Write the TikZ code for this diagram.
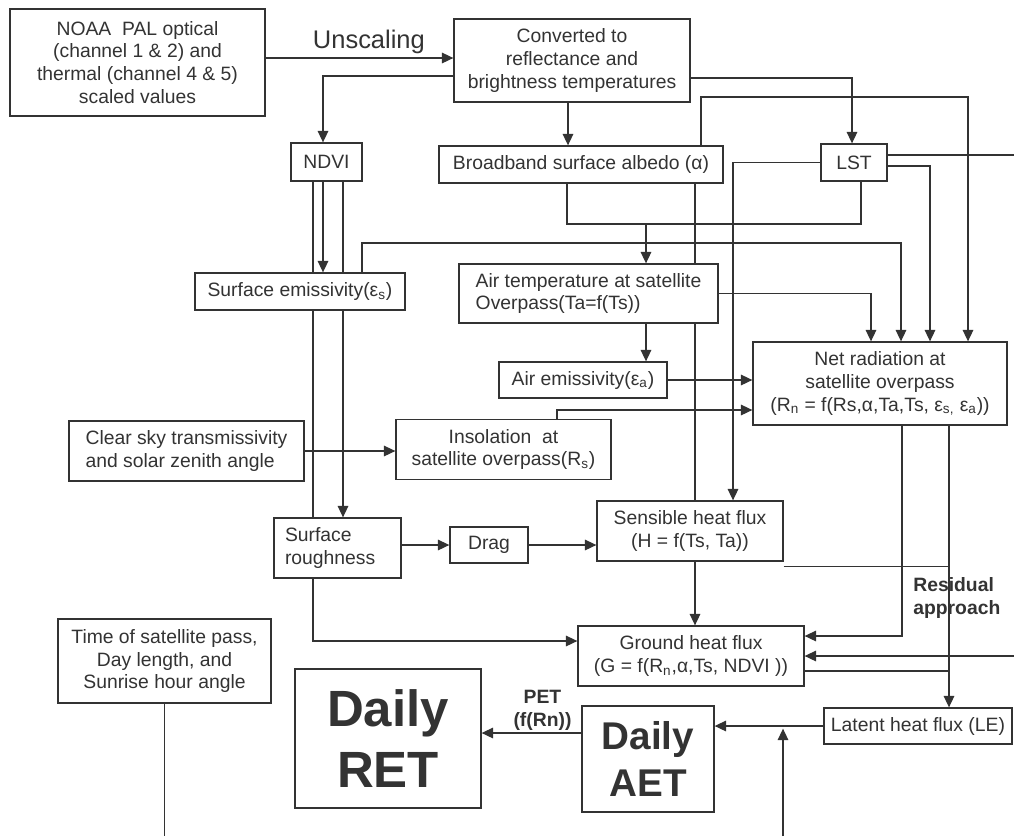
\documentclass[tikz,border=0pt]{standalone}
\usepackage{fontspec}
\setmainfont{Liberation Sans}
\usepackage{tikz}
\usetikzlibrary{arrows.meta,backgrounds}
\definecolor{ink}{HTML}{333333}

\begin{document}
\begin{tikzpicture}[
      x=0.02cm, y=-0.02cm,
      box/.style={draw=ink, line width=0.75pt, fill=white, text=ink, inner sep=0pt, align=center, font=\fontsize{11}{13}\selectfont},
      sz/.style 2 args={minimum width=#1cm, minimum height=#2cm},
      bigbox/.style={box, font=\fontsize{29}{35}\selectfont\bfseries},
      midbox/.style={box, font=\fontsize{22}{27}\selectfont\bfseries},
      link/.style={draw=ink, line width=0.75pt},
      arr/.style={link, -{Triangle[length=6.5pt, width=6pt]}},
      note/.style={text=ink, inner sep=1pt, align=center, font=\fontsize{11}{13}\selectfont\bfseries},
    ]
    \useasboundingbox (0,0) rectangle (1014,836);

    % Inputs and satellite products
    \node[box, sz={5.10}{2.14}] (noaa) at (137.5,62.5) {NOAA\ \ PAL optical\\(channel 1 \& 2) and\\thermal (channel 4 \& 5)\\scaled values};
    \node[box, sz={4.72}{1.66}] (conv) at (572,60.5) {Converted to\\reflectance and\\brightness temperatures};
    \node[box, sz={1.42}{0.76}] (ndvi) at (326.5,162) {NDVI};
    \node[box, sz={5.68}{0.74}] (albedo) at (581,164.5) {Broadband surface albedo (α)};
    \node[box, sz={1.32}{0.74}] (lst) at (854,162.5) {LST};
    \node[box, sz={4.20}{0.74}] (semis) at (300,291.5) {Surface emissivity(ε\textsubscript{s})};
    \node[box, align=left, sz={5.18}{1.18}] (airt) at (588.5,293.5) {Air temperature at satellite\\Overpass(Ta=f(Ts))};
    \node[box, sz={3.36}{0.72}] (aemis) at (583,380) {Air emissivity(ε\textsubscript{a})};
    \node[box, sz={5.08}{1.66}] (net) at (880,383.5) {Net radiation at\\satellite overpass\\(R\textsubscript{n} = f(Rs,α,Ta,Ts, ε\textsubscript{s,} ε\textsubscript{a}))};
    \node[box, align=left, sz={4.70}{1.20}] (clear) at (186.5,451) {Clear sky transmissivity\\and solar zenith angle};
    \node[box, sz={4.30}{1.20}] (insol) at (503.5,449.5) {Insolation\ \ at\\satellite overpass(R\textsubscript{s})};

    % Fluxes
    \node[box, align=left, text width=2.1cm, sz={2.54}{1.20}] (rough) at (337.5,548) {Surface\\roughness};
    \node[box, sz={1.56}{0.72}] (drag) at (489,545) {Drag};
    \node[box, sz={3.72}{1.20}] (sens) at (690,531) {Sensible heat flux\\(H = f(Ts, Ta))};
    \node[box, sz={4.52}{1.20}] (ground) at (691,656) {Ground heat flux\\(G = f(R\textsubscript{n},α,Ts, NDVI ))};
    \node[box, sz={3.76}{0.72}] (latent) at (918,726) {Latent heat flux (LE)};
    \node[note, align=left, anchor=north west, inner sep=0pt] (resid) at (913,577) {Residual\\approach};

    % Daily totals
    \node[box, sz={4.26}{1.68}] (time) at (164.5,661) {Time of satellite pass,\\Day length, and\\Sunrise hour angle};
    \node[bigbox, sz={3.72}{2.78}] (ret) at (388,738.5) {Daily\\RET};
    \node[midbox, sz={2.64}{2.12}] (aet) at (648,759) {Daily\\AET};

    \begin{scope}[on background layer]
      % unscaling and first products
      \draw[arr] (noaa.east |- 0,58) -- node[pos=0.55, above, inner sep=2pt, text=ink, font=\fontsize{14.5}{17}\selectfont] (unsc) {Unscaling} (conv.west |- 0,58);
      \draw[arr] (conv.west |- 0,76) -| (ndvi.north -| 323,0);
      \draw[arr] (conv.south -| 568,0) -- (albedo.north -| 568,0);
      \draw[arr] (conv.east |- 0,78) -| (lst.north -| 852,0);

      % NDVI branches
      \draw[arr] (ndvi.south -| 323,0) -- (semis.north -| 323,0);
      \draw[arr] (ndvi.south -| 343,0) -- (rough.north -| 343,0);
      \draw[arr] (ndvi.south -| 313,0) -- (313,641) -- (ground.west |- 0,641);

      % albedo and LST
      \draw[arr] (albedo.north -| 701,0) -- (701,97) -| (net.north -| 968,0);
      \draw[arr] (albedo.south -| 695,0) -- (ground.north -| 695,0);
      \draw[link] (albedo.south -| 567,0) -- (567,224) -| (lst.south -| 861,0);
      \coordinate (tjoin) at (646,224);
      \draw[arr] (tjoin) -- (airt.north -| tjoin);
      \draw[arr] (lst.west) -| (sens.north -| 733,0);
      \draw[arr] (lst.east |- 0,166) -| (net.north -| 930,0);
      \coordinate (rimtop) at (1014,155);
      \draw[link] (lst.east |- rimtop) -- (rimtop);

      % net radiation inputs
      \draw[arr] (semis.north -| 362,0) -- (362,243) -| (net.north -| 901,0);
      \draw[arr] (airt.east) -| (net.north -| 871,0);
      \draw[arr] (airt.south -| tjoin) -- (aemis.north -| tjoin);
      \draw[arr] (aemis.east) -- (net.west |- aemis.east);
      \draw[arr] (insol.north -| 557,0) -- (557,410) -- (net.west |- 0,410);
      \draw[arr] (clear.east) -- (insol.west |- clear.east);

      % fluxes
      \draw[arr] (rough.east |- drag.west) -- (drag.west);
      \draw[arr] (drag.east) -- (sens.west |- drag.east);
      \draw[arr] (net.south -| 902,0) |- (ground.east |- 0,636);
      \draw[arr] (net.south -| 949,0) -- (latent.north -| 949,0);
      \draw[link] ([yshift=-0.1cm]sens.south east) -- ++(166,0);
      \draw[link] (ground.east |- 0,671) -- ++(144,0);
      \coordinate (rimlow) at (1014,656);
      \draw[arr] (rimlow) -- (ground.east |- rimlow);

      % daily totals
      \draw[arr] (latent.west) -- (aet.east |- latent.west);
      \coordinate (lefeed) at (783,836);
      \draw[arr, shorten >=1.5pt] (lefeed) -- (lefeed |- latent.west);
      \draw[arr] (aet.west |- 0,733) -- node[pos=0.39, above, note] (pet) {PET\\(f(Rn))} (ret.east |- 0,733);
      \coordinate (timeout) at (164.5,836);
      \draw[link] (time.south) -- (timeout);
    \end{scope}
  \end{tikzpicture}
\end{document}
